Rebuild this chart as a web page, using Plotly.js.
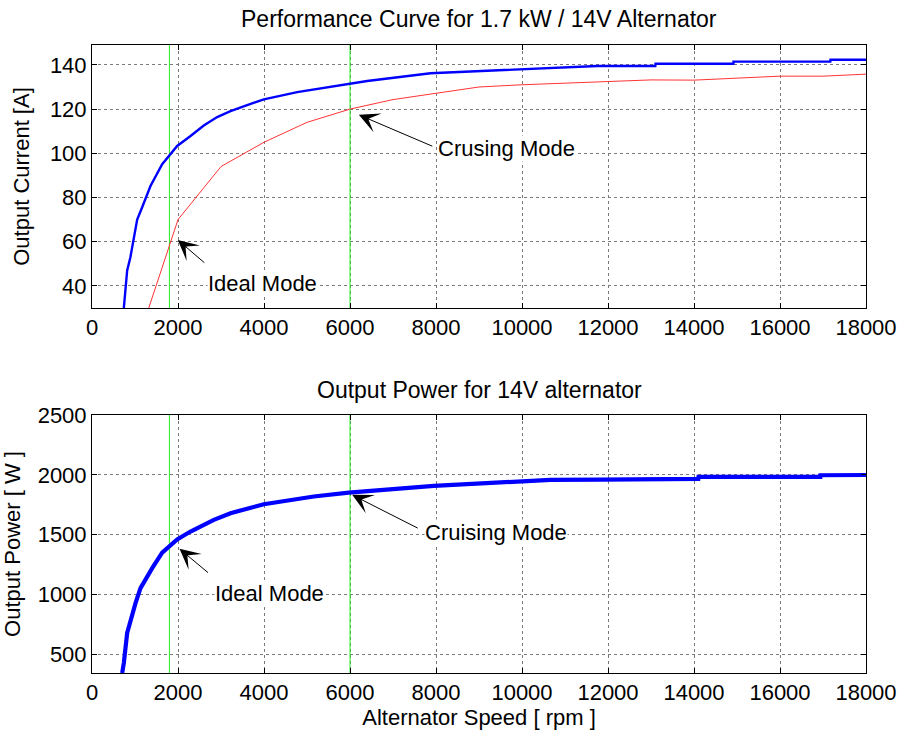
<!DOCTYPE html>
<html><head><meta charset="utf-8">
<script src="https://cdn.plot.ly/plotly-3.0.1.min.js"></script>
<style>body{margin:0;background:#fff}#c{width:902px;height:742px}</style>
</head><body><div id="c"></div>
<script>
// Top: output current vs speed
const currSpeed = [740, 779, 818, 893, 972, 1051, 1167, 1360, 1632, 1981, 2291, 2600, 2911, 3221, 3608, 3996, 4772, 5547, 5972, 6400, 7872, 10198, 11749, 13100, 13105, 14915, 14919, 17170, 17174, 18000];
const currAmps  = [30, 39.5, 47, 53, 62.4, 70, 75.6, 85.2, 95.1, 103.3, 107.8, 112.6, 116.4, 119.1, 121.8, 124.4, 127.7, 130, 131.2, 132.7, 136.2, 138.2, 139.5, 139.5, 140.5, 140.5, 141.5, 141.5, 142.3, 142.3];
// Red rated current curve
const ratedSpeed = [1320, 2000, 3000, 4000, 5000, 6000, 7000, 8000, 9000, 10000, 11000, 12000, 13000, 14000, 15000, 16000, 17000, 18000];
const ratedAmps  = [30, 70, 94, 105, 114, 120, 124.3, 127.2, 130, 131, 131.8, 132.5, 133.2, 133.1, 134, 134.9, 134.9, 135.8];
// Bottom: output power
const powSpeed = [702, 740, 818, 893, 1012, 1128, 1283, 1400, 1632, 1981, 2291, 2833, 3221, 3996, 5158, 5972, 7949, 9500, 10663, 11826, 12128, 12132, 14100, 14105, 16938, 16942, 18000];
const powWatts = [345, 428, 679, 790, 929, 1054, 1151, 1221, 1350, 1461, 1527, 1624, 1680, 1755, 1819, 1852, 1908, 1939, 1958, 1960, 1960, 1967, 1967, 1983, 1983, 1997, 1999];
// Operating mode markers
const modeSpeeds = [1800, 6000];
const xTicks = [0, 2000, 4000, 6000, 8000, 10000, 12000, 14000, 16000, 18000];
const xTickLabels = ['0', '2000', '4000', '6000', '8000', '10000', '12000', '14000', '16000', '18000'];
const yTicksTop = [40, 60, 80, 100, 120, 140];
const yTicksBot = [500, 1000, 1500, 2000, 2500];

const F = 'Liberation Sans, Arial, sans-serif';
const FS = 22;
const traces = [];
modeSpeeds.forEach(s => {
  traces.push({x:[s,s], y:[0,200], mode:'lines', line:{color:'#22ee22', width:1}, xaxis:'x', yaxis:'y', showlegend:false, hoverinfo:'skip'});
  traces.push({x:[s,s], y:[0,3000], mode:'lines', line:{color:'#22ee22', width:1}, xaxis:'x2', yaxis:'y2', showlegend:false, hoverinfo:'skip'});
});
traces.push({x:ratedSpeed, y:ratedAmps, mode:'lines', line:{color:'#ff3333', width:1}, xaxis:'x', yaxis:'y', showlegend:false});
traces.push({x:currSpeed, y:currAmps, mode:'lines', line:{color:'#0000ff', width:2.4}, xaxis:'x', yaxis:'y', showlegend:false});
traces.push({x:powSpeed, y:powWatts, mode:'lines', line:{color:'#0000ff', width:4.2}, xaxis:'x2', yaxis:'y2', showlegend:false});

const ax = (extra) => Object.assign({
  showline:true, linecolor:'#000', linewidth:1, mirror:'ticks', ticks:'inside', ticklen:5, tickcolor:'#000',
  showgrid:true, gridcolor:'#7a7a7a', griddash:'dot', gridwidth:1, zeroline:false,
  tickfont:{family:F, size:FS, color:'#000'}
}, extra);

const arrow = (xr, yr, x, y, axp, ayp) => ({xref:xr, yref:yr, x:x, y:y, ax:axp, ay:ayp, text:'', showarrow:true, arrowhead:3, arrowsize:3.4, arrowwidth:1, arrowcolor:'#000'});
const label = (xr, yr, x, y, t) => ({xref:xr, yref:yr, x:x, y:y, text:t, showarrow:false, bgcolor:'#fff', font:{family:F, size:FS, color:'#000'}, borderpad:0});

const layout = {
  width:902, height:742, paper_bgcolor:'#fff', plot_bgcolor:'#fff',
  margin:{l:92, r:36, t:45, b:69},
  xaxis: ax({domain:[0,1], range:[0,18000], tickvals:xTicks, ticktext:xTickLabels, anchor:'y'}),
  yaxis: ax({domain:[0.5812,1], range:[30,149], tickvals:yTicksTop, anchor:'x',
    title:{text:'Output Current [A]', font:{family:F, size:FS, color:'#000'}, standoff:14}}),
  xaxis2: ax({domain:[0,1], range:[0,18000], tickvals:xTicks, ticktext:xTickLabels, anchor:'y2',
    title:{text:'Alternator Speed [ rpm ]', font:{family:F, size:FS, color:'#000'}, standoff:4}}),
  yaxis2: ax({domain:[0,0.4108], range:[345,2500], tickvals:yTicksBot, anchor:'x2',
    title:{text:'Output Power [ W ]', font:{family:F, size:FS, color:'#000'}, standoff:15}}),
  annotations:[
    {xref:'paper', yref:'paper', x:0.5, y:1, yshift:26, text:'Performance Curve for 1.7 kW / 14V Alternator', showarrow:false, font:{family:F, size:23, color:'#000'}, yanchor:'middle'},
    {xref:'paper', yref:'paper', x:0.5, y:0.4108, yshift:25, text:'Output Power for 14V alternator', showarrow:false, font:{family:F, size:23, color:'#000'}, yanchor:'middle'},
    arrow('x','y',1995,60.8,28,24),
    arrow('x','y',6205,117.4,75,32),
    arrow('x2','y2',2035,1382,30,25),
    arrow('x2','y2',6051,1833,67,34),
    label('x','y',3965,41.2,'Ideal Mode'),
    label('x','y',9640,102.3,'Crusing Mode'),
    label('x2','y2',4128,1008,'Ideal Mode'),
    label('x2','y2',9384,1517,'Cruising Mode')
  ]
};
Plotly.newPlot('c', traces, layout, {staticPlot:true, displayModeBar:false});
</script></body></html>
